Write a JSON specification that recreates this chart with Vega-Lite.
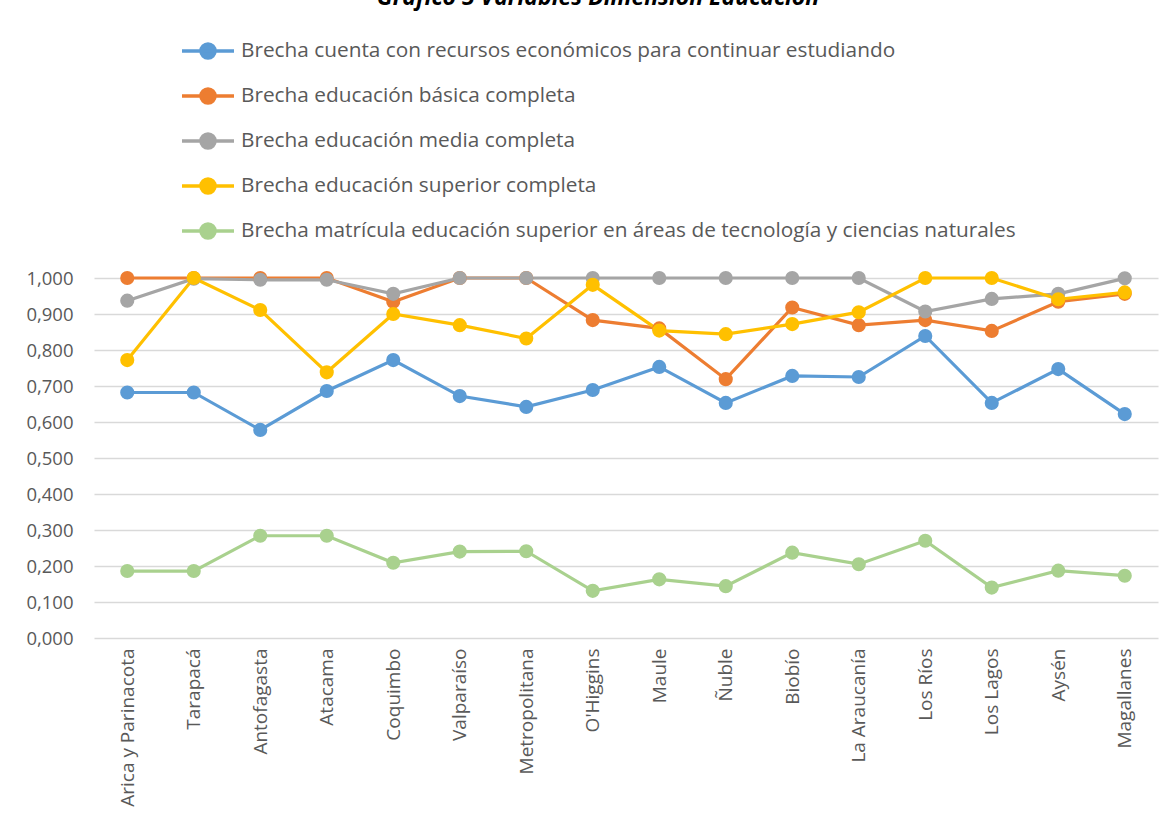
{
  "$schema": "https://vega.github.io/schema/vega-lite/v6.json",
  "autosize": {"type": "none"},
  "width": 1064,
  "height": 360,
  "padding": {"left": 94, "top": 278, "right": 14, "bottom": 181},
  "background": "white",
  "title": {
    "text": "Gráfico 5 Variables Dimensión Educación",
    "anchor": "middle",
    "frame": "group",
    "font": "Open Sans",
    "fontSize": 23,
    "fontWeight": "bold",
    "fontStyle": "italic",
    "color": "#000000",
    "offset": 0,
    "baseline": "alphabetic",
    "dx": -28,
    "dy": 5
  },
  "config": {
    "locale": {"number": {"decimal": ",", "thousands": ".", "grouping": [3], "currency": ["$", ""]}},
    "view": {"stroke": null},
    "font": "Open Sans"
  },
  "data": {
    "values": [
      {"region": "Arica y Parinacota", "Brecha cuenta con recursos económicos para continuar estudiando": 0.682, "Brecha educación básica completa": 1.000, "Brecha educación media completa": 0.937, "Brecha educación superior completa": 0.772, "Brecha matrícula educación superior  en áreas de tecnología y ciencias naturales": 0.186},
      {"region": "Tarapacá", "Brecha cuenta con recursos económicos para continuar estudiando": 0.682, "Brecha educación básica completa": 1.000, "Brecha educación media completa": 0.998, "Brecha educación superior completa": 1.000, "Brecha matrícula educación superior  en áreas de tecnología y ciencias naturales": 0.186},
      {"region": "Antofagasta", "Brecha cuenta con recursos económicos para continuar estudiando": 0.578, "Brecha educación básica completa": 1.000, "Brecha educación media completa": 0.995, "Brecha educación superior completa": 0.911, "Brecha matrícula educación superior  en áreas de tecnología y ciencias naturales": 0.284},
      {"region": "Atacama", "Brecha cuenta con recursos económicos para continuar estudiando": 0.686, "Brecha educación básica completa": 1.000, "Brecha educación media completa": 0.995, "Brecha educación superior completa": 0.738, "Brecha matrícula educación superior  en áreas de tecnología y ciencias naturales": 0.284},
      {"region": "Coquimbo", "Brecha cuenta con recursos económicos para continuar estudiando": 0.772, "Brecha educación básica completa": 0.934, "Brecha educación media completa": 0.956, "Brecha educación superior completa": 0.900, "Brecha matrícula educación superior  en áreas de tecnología y ciencias naturales": 0.209},
      {"region": "Valparaíso", "Brecha cuenta con recursos económicos para continuar estudiando": 0.672, "Brecha educación básica completa": 1.000, "Brecha educación media completa": 1.000, "Brecha educación superior completa": 0.869, "Brecha matrícula educación superior  en áreas de tecnología y ciencias naturales": 0.240},
      {"region": "Metropolitana", "Brecha cuenta con recursos económicos para continuar estudiando": 0.642, "Brecha educación básica completa": 1.000, "Brecha educación media completa": 1.000, "Brecha educación superior completa": 0.832, "Brecha matrícula educación superior  en áreas de tecnología y ciencias naturales": 0.241},
      {"region": "O'Higgins", "Brecha cuenta con recursos económicos para continuar estudiando": 0.689, "Brecha educación básica completa": 0.883, "Brecha educación media completa": 1.000, "Brecha educación superior completa": 0.981, "Brecha matrícula educación superior  en áreas de tecnología y ciencias naturales": 0.131},
      {"region": "Maule", "Brecha cuenta con recursos económicos para continuar estudiando": 0.753, "Brecha educación básica completa": 0.860, "Brecha educación media completa": 1.000, "Brecha educación superior completa": 0.854, "Brecha matrícula educación superior  en áreas de tecnología y ciencias naturales": 0.163},
      {"region": "Ñuble", "Brecha cuenta con recursos económicos para continuar estudiando": 0.653, "Brecha educación básica completa": 0.719, "Brecha educación media completa": 1.000, "Brecha educación superior completa": 0.844, "Brecha matrícula educación superior  en áreas de tecnología y ciencias naturales": 0.144},
      {"region": "Biobío", "Brecha cuenta con recursos económicos para continuar estudiando": 0.728, "Brecha educación básica completa": 0.918, "Brecha educación media completa": 1.000, "Brecha educación superior completa": 0.872, "Brecha matrícula educación superior  en áreas de tecnología y ciencias naturales": 0.237},
      {"region": "La Araucanía", "Brecha cuenta con recursos económicos para continuar estudiando": 0.725, "Brecha educación básica completa": 0.869, "Brecha educación media completa": 1.000, "Brecha educación superior completa": 0.905, "Brecha matrícula educación superior  en áreas de tecnología y ciencias naturales": 0.205},
      {"region": "Los Ríos", "Brecha cuenta con recursos económicos para continuar estudiando": 0.839, "Brecha educación básica completa": 0.883, "Brecha educación media completa": 0.907, "Brecha educación superior completa": 1.000, "Brecha matrícula educación superior  en áreas de tecnología y ciencias naturales": 0.270},
      {"region": "Los Lagos", "Brecha cuenta con recursos económicos para continuar estudiando": 0.653, "Brecha educación básica completa": 0.853, "Brecha educación media completa": 0.942, "Brecha educación superior completa": 1.000, "Brecha matrícula educación superior  en áreas de tecnología y ciencias naturales": 0.140},
      {"region": "Aysén", "Brecha cuenta con recursos económicos para continuar estudiando": 0.747, "Brecha educación básica completa": 0.934, "Brecha educación media completa": 0.956, "Brecha educación superior completa": 0.941, "Brecha matrícula educación superior  en áreas de tecnología y ciencias naturales": 0.187},
      {"region": "Magallanes", "Brecha cuenta con recursos económicos para continuar estudiando": 0.622, "Brecha educación básica completa": 0.956, "Brecha educación media completa": 0.999, "Brecha educación superior completa": 0.960, "Brecha matrícula educación superior  en áreas de tecnología y ciencias naturales": 0.173}
    ]
  },
  "transform": [
    {"fold": [
      "Brecha cuenta con recursos económicos para continuar estudiando",
      "Brecha educación básica completa",
      "Brecha educación media completa",
      "Brecha educación superior completa",
      "Brecha matrícula educación superior  en áreas de tecnología y ciencias naturales"
    ], "as": ["serie", "valor"]}
  ],
  "encoding": {
    "x": {
      "field": "region",
      "type": "nominal",
      "sort": null,
      "scale": {"type": "point", "padding": 0.5},
      "axis": {
        "title": null,
        "labelAngle": -90,
        "labelAlign": "right",
        "labelBaseline": "middle",
        "labelPadding": 10,
        "labelFontSize": 19,
        "labelColor": "#595959",
        "labelFont": "Open Sans",
        "ticks": false,
        "domain": false,
        "grid": false
      }
    },
    "y": {
      "field": "valor",
      "type": "quantitative",
      "scale": {"domain": [0, 1], "nice": false, "zero": true},
      "axis": {
        "title": null,
        "values": [0, 0.1, 0.2, 0.3, 0.4, 0.5, 0.6, 0.7, 0.8, 0.9, 1.0],
        "format": ".3f",
        "labelFontSize": 18.5,
        "labelColor": "#595959",
        "labelFont": "Open Sans",
        "labelPadding": 21,
        "ticks": false,
        "domain": false,
        "grid": true,
        "gridColor": "#d9d9d9",
        "gridWidth": 1.3
      }
    },
    "color": {
      "field": "serie",
      "type": "nominal",
      "scale": {
        "domain": [
          "Brecha cuenta con recursos económicos para continuar estudiando",
          "Brecha educación básica completa",
          "Brecha educación media completa",
          "Brecha educación superior completa",
          "Brecha matrícula educación superior  en áreas de tecnología y ciencias naturales"
        ],
        "range": ["#5B9BD5", "#ED7D31", "#A5A5A5", "#FFC000", "#A9D18E"]
      },
      "legend": {
        "title": null,
        "orient": "none",
        "legendX": 86,
        "legendY": -255,
        "direction": "vertical",
        "labelFontSize": 20.8,
        "labelFont": "Open Sans",
        "labelColor": "#595959",
        "labelLimit": 1000,
        "labelOffset": 5,
        "rowPadding": 2,
        "symbolType": "M-1,0H1M-0.27,0A0.27,0.27 0 1,0 0.27,0A0.27,0.27 0 1,0 -0.27,0Z",
        "symbolSize": 2704,
        "symbolStrokeWidth": 3.5,
        "symbolOpacity": 1,
        "encode": {
          "symbols": {
            "update": {
              "fill": {"scale": "color", "field": "value"},
              "stroke": {"scale": "color", "field": "value"},
              "strokeWidth": {"value": 3.5},
              "opacity": {"value": 1}
            }
          }
        }
      }
    }
  },
  "layer": [
    {"mark": {"type": "line", "strokeWidth": 3.2}},
    {"mark": {"type": "point", "filled": true, "size": 200, "opacity": 1}}
  ]
}
